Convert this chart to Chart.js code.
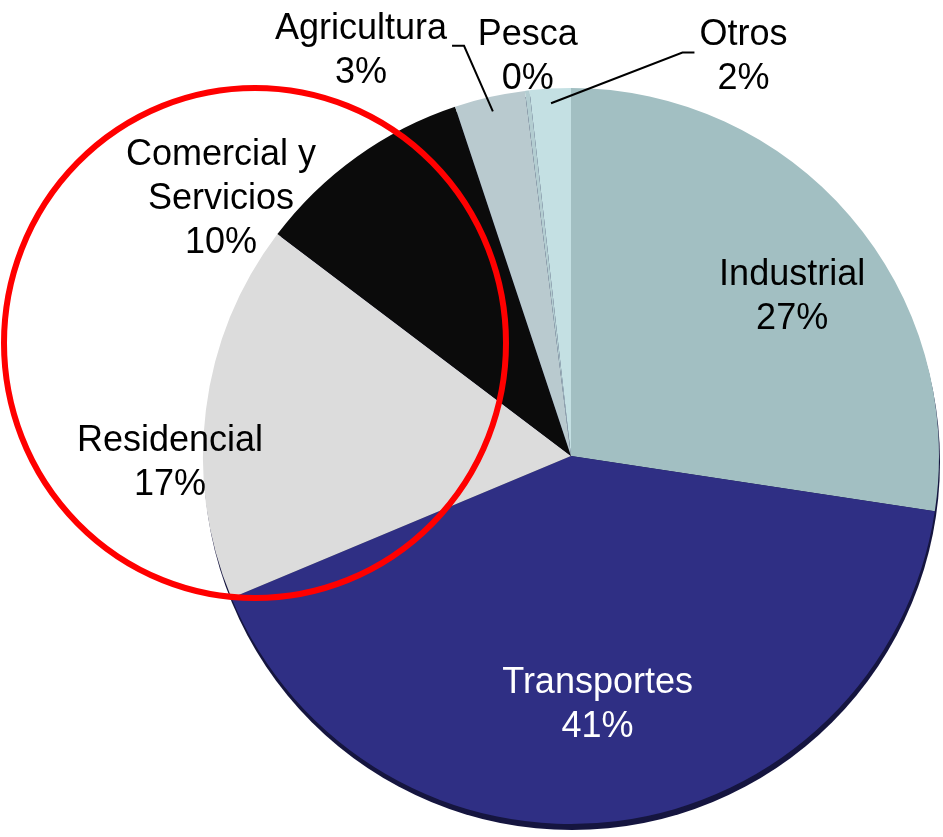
<!DOCTYPE html>
<html>
<head>
<meta charset="utf-8">
<script src="https://cdn.jsdelivr.net/npm/chart.js@4/dist/chart.umd.min.js"></script>
<style>
  body { margin: 0; background: #fff; }
</style>
</head>
<body>
<canvas id="pie" width="943" height="837"></canvas>
<script>
const sectors = ["Industrial", "Transportes", "Residencial", "Comercial y\nServicios", "Agricultura", "Pesca", "Otros"];
const shares = [27.4, 41.3, 16.6, 9.6, 3.1, 0.2, 1.8];
const colors = ["#a2bfc2", "#2f2f84", "#dcdcdc", "#0b0b0b", "#b9cacf", "#b3cdd1", "#c4e0e3"];
const textColors = ["#000", "#fff", "#000", "#000", "#000", "#000", "#000"];

// label placement: angle from 12 o'clock (deg) and distance as a fraction of radius
const labelAngle = [54.3, 173.9, 269.0, 306.3, 332.6, 353.8, 23.4];
const labelDist = [0.74, 0.68, 1.09, 1.18, 1.24, 1.09, 1.18];
const leaderSide = [null, null, null, null, "right", null, "left"];

const total = shares.reduce((a, b) => a + b, 0);
const FONT = '36px "Liberation Sans", Arial, sans-serif';
const LINE_H = 44;

const rimShadow = {
    id: 'rimShadow',
    beforeDatasetsDraw(chart) {
        const arc = chart.getDatasetMeta(0).data[0];
        const ctx = chart.ctx;
        ctx.save();
        ctx.fillStyle = '#15153f';
        ctx.beginPath();
        ctx.arc(arc.x + 1, arc.y + 6, arc.outerRadius, 0, Math.PI * 2);
        ctx.fill();
        ctx.restore();
    }
};

const sliceLabels = {
    id: 'sliceLabels',
    afterDatasetsDraw(chart) {
        const ctx = chart.ctx;
        const arcs = chart.getDatasetMeta(0).data;
        ctx.save();
        ctx.font = FONT;
        ctx.textAlign = 'center';
        ctx.textBaseline = 'middle';
        arcs.forEach((arc, i) => {
            const a = labelAngle[i] * Math.PI / 180;
            const r = arc.outerRadius * labelDist[i];
            const cx = arc.x + r * Math.sin(a);
            const cy = arc.y - r * Math.cos(a);
            const lines = sectors[i].split('\n');
            lines.push(Math.round(shares[i] / total * 100) + '%');
            const top = cy - (lines.length - 1) * LINE_H / 2;
            ctx.fillStyle = textColors[i];
            lines.forEach((l, k) => ctx.fillText(l, cx, top + k * LINE_H));

            if (leaderSide[i]) {
                const mid = (arc.startAngle + arc.endAngle) / 2;
                const px = arc.x + arc.outerRadius * 0.96 * Math.cos(mid);
                const py = arc.y + arc.outerRadius * 0.96 * Math.sin(mid);
                const w = ctx.measureText(lines[0]).width;
                const y0 = top + 17;
                const dir = leaderSide[i] === 'right' ? 1 : -1;
                const x0 = cx + dir * (w / 2 + 5);
                const x1 = x0 + dir * 12;
                ctx.strokeStyle = '#000';
                ctx.lineWidth = 2;
                ctx.beginPath();
                ctx.moveTo(x0, y0);
                ctx.lineTo(x1, y0);
                ctx.lineTo(px, py);
                ctx.stroke();
            }
        });
        ctx.restore();
    }
};

const redRing = {
    id: 'redRing',
    afterDraw(chart) {
        const ctx = chart.ctx;
        ctx.save();
        ctx.strokeStyle = '#ff0000';
        ctx.lineWidth = 6;
        ctx.beginPath();
        ctx.ellipse(255, 343, 251, 255, 0, 0, Math.PI * 2);
        ctx.stroke();
        ctx.restore();
    }
};

new Chart(document.getElementById('pie'), {
    type: 'pie',
    data: {
        labels: sectors,
        datasets: [{
            data: shares,
            backgroundColor: colors,
            borderWidth: 0
        }]
    },
    options: {
        responsive: false,
        animation: false,
        layout: { padding: { left: 203, right: 4, top: 88, bottom: 13 } },
        plugins: {
            legend: { display: false },
            tooltip: { enabled: false }
        }
    },
    plugins: [rimShadow, sliceLabels, redRing]
});
</script>
</body>
</html>
